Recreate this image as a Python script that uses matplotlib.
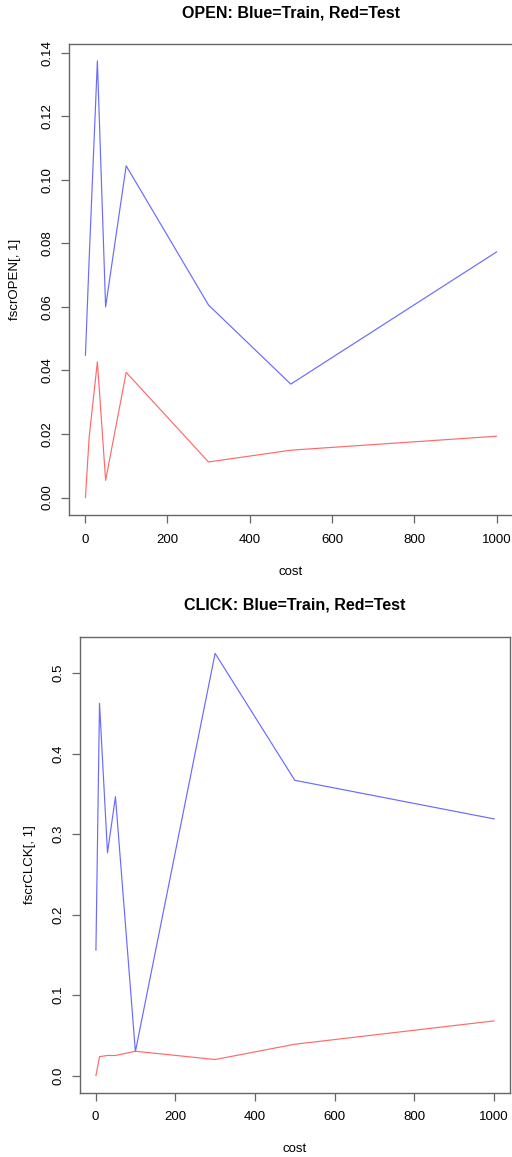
import matplotlib
matplotlib.use('Agg')
import matplotlib.pyplot as plt

plt.rcParams['font.family'] = ['Liberation Sans', 'DejaVu Sans']

# cost grid used for both models
cost = [1, 10, 30, 50, 100, 300, 500, 1000]

# OPEN model f-scores
open_train = [0.0448, 0.075, 0.1374, 0.0600, 0.1044, 0.0606, 0.0357, 0.0773]
open_test = [0.0000, 0.019, 0.0427, 0.0054, 0.0394, 0.0112, 0.0149, 0.0193]

# CLICK model f-scores
click_train = [0.156, 0.4626, 0.277, 0.3466, 0.0298, 0.5247, 0.367, 0.319]
click_test = [0.000, 0.0236, 0.025, 0.025, 0.0303, 0.020, 0.039, 0.068]

open_yticks = [0.00, 0.02, 0.04, 0.06, 0.08, 0.10, 0.12, 0.14]
click_yticks = [0.0, 0.1, 0.2, 0.3, 0.4, 0.5]
xticks = [0, 200, 400, 600, 800, 1000]

W, H = 512, 1157
fig = plt.figure(figsize=(W / 100, H / 100), dpi=100)


def px_axes(left, top, right, bottom):
    return fig.add_axes([left / W, 1 - bottom / H, (right - left) / W, (bottom - top) / H])


def r_style(ax, title, ylabel, yticks, yfmt, ylab_x, width_px, height_px):
    ax.margins(0.04)
    ax.set_xticks(xticks)
    ax.set_yticks(yticks)
    ax.set_yticklabels([yfmt.format(v) for v in yticks], rotation=90, va='center')
    for s in ax.spines.values():
        s.set_color('#666666')
        s.set_linewidth(1.0)
    ax.tick_params(direction='out', length=5.5, width=0.9, color='#666666',
                   labelsize=9.5)
    ax.tick_params(axis='x', pad=8)
    ax.tick_params(axis='y', pad=6)
    # R puts the main title well above the box
    ax.set_title(title, fontsize=11.5, fontweight='bold',
                 y=1 + 31 / height_px, va='center', pad=0)
    ax.set_xlabel('cost', fontsize=9.5)
    ax.xaxis.set_label_coords(0.5, -57 / height_px)
    ax.xaxis.label.set_va('center')
    ax.set_ylabel(ylabel, fontsize=9.5)
    ax.yaxis.set_label_coords(ylab_x / width_px, 0.5)
    ax.yaxis.label.set_va('center')


ax1 = px_axes(69, 43.5, 513, 515)
ax1.plot(cost, open_train, color='#6a6aff', lw=0.85)
ax1.plot(cost, open_test, color='#ff6a6a', lw=0.85)
r_style(ax1, 'OPEN: Blue=Train, Red=Test', 'fscrOPEN[, 1]', open_yticks,
        '{:.2f}', 15 - 69, 444, 471.5)

ax2 = px_axes(80, 636.5, 510, 1092.5)
ax2.plot(cost, click_train, color='#6a6aff', lw=0.85)
ax2.plot(cost, click_test, color='#ff6a6a', lw=0.85)
r_style(ax2, 'CLICK: Blue=Train, Red=Test', 'fscrCLCK[, 1]', click_yticks,
        '{:.1f}', 30 - 80, 430, 456)

fig.savefig('out.png', dpi=100)
plt.close(fig)
